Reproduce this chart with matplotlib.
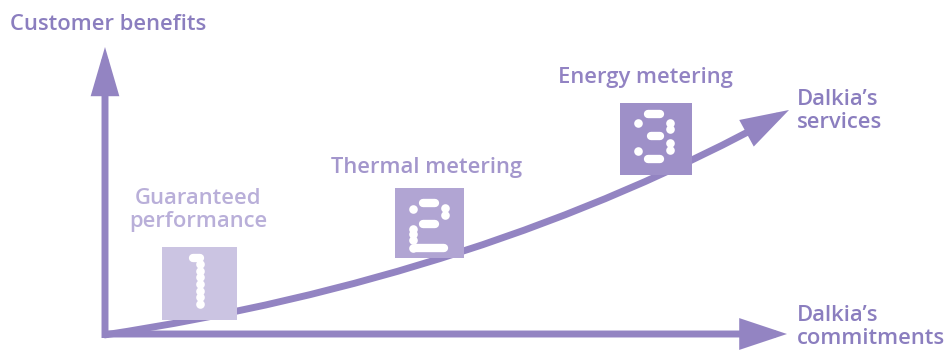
import matplotlib.pyplot as plt
from matplotlib.patches import FancyArrowPatch, Rectangle
from matplotlib.path import Path

# canvas in pixel units of the 948x350 picture
W, H = 948, 350

# colours
axis_col = '#9384c2'
title_col = '#8b7ebf'

# axes arrows (start, tip)
y_axis = [(105, 338), (105, 47)]
x_axis = [(102, 334), (787, 334)]

# service curve: start, control, tip (quadratic)
curve_x = [104, 482, 789]
curve_y = [335, 278, 110]

# steps
step_names = ['Guaranteed\nperformance', 'Thermal metering', 'Energy metering']
step_label_xy = [(198, 210), (427, 168), (645, 78)]
step_box = [(162, 247, 75, 73), (395, 188, 69, 70), (620, 103, 72, 72)]  # left, top, w, h
step_box_col = ['#cbc4e2', '#b1a5d3', '#9e90c8']
step_text_col = ['#b9afd9', '#a396cc', '#9283c3']

# digits: bars (x0, x1, y) and dots (x, y), offsets from box top-left
digit_bars = [
    [(31, 38, 11)],
    [(28, 40, 15), (28, 40, 36), (21, 49, 60)],
    [(28, 40, 11), (31, 40, 33), (28, 40, 56)],
]
digit_dots = [
    [(38, y) for y in (17, 24, 30, 37, 44, 50, 57)],
    [(18, 21), (50, 20), (50, 27), (18, 41), (18, 46), (18, 52), (18, 60)],
    [(18, 20), (50, 20), (50, 26), (50, 40), (50, 47), (18, 48)],
]

fig = plt.figure(figsize=(W / 100, H / 100), dpi=100)
ax = fig.add_axes([0, 0, 1, 1])
ax.set_xlim(0, W)
ax.set_ylim(H, 0)
ax.axis('off')

font = dict(family=['Open Sans', 'DejaVu Sans'], weight='semibold')
fs = 15.8

arrow_kw = dict(color=axis_col, lw=5, shrinkA=0, shrinkB=0, joinstyle='miter',
                capstyle='butt', mutation_scale=1)
ax.add_patch(FancyArrowPatch(y_axis[0], y_axis[1],
             arrowstyle='-|>,head_length=24,head_width=7', zorder=1, **arrow_kw))
ax.add_patch(FancyArrowPatch(x_axis[0], x_axis[1],
             arrowstyle='-|>,head_length=24,head_width=8', zorder=1, **arrow_kw))
curve = Path(list(zip(curve_x, curve_y)), [Path.MOVETO, Path.CURVE3, Path.CURVE3])
ax.add_patch(FancyArrowPatch(path=curve,
             arrowstyle='-|>,head_length=24,head_width=7.5', zorder=1, **arrow_kw))

for i in range(3):
    x0, y0, w, h = step_box[i]
    ax.add_patch(Rectangle((x0, y0), w, h, color=step_box_col[i], lw=0, zorder=2))
    for bx0, bx1, by in digit_bars[i]:
        ax.plot([x0 + bx0, x0 + bx1], [y0 + by, y0 + by], color='white', lw=6,
                solid_capstyle='round', zorder=3)
    dx = [x0 + d[0] for d in digit_dots[i]]
    dy = [y0 + d[1] for d in digit_dots[i]]
    ax.plot(dx, dy, 'o', color='white', ms=6.2, mew=0, zorder=3)
    tx, ty = step_label_xy[i]
    ax.text(tx, ty, step_names[i], color=step_text_col[i], fontsize=fs,
            ha='center', va='center', linespacing=1.1, **font)

ax.text(10, 25, 'Customer benefits', color=title_col, fontsize=fs,
        ha='left', va='center', **font)
ax.text(797, 111, 'Dalkia\u2019s\nservices', color=title_col, fontsize=fs,
        ha='left', va='center', linespacing=1.1, **font)
ax.text(797, 327, 'Dalkia\u2019s\ncommitments', color=title_col, fontsize=fs,
        ha='left', va='center', linespacing=1.1, **font)

fig.savefig('out.png', dpi=100)
